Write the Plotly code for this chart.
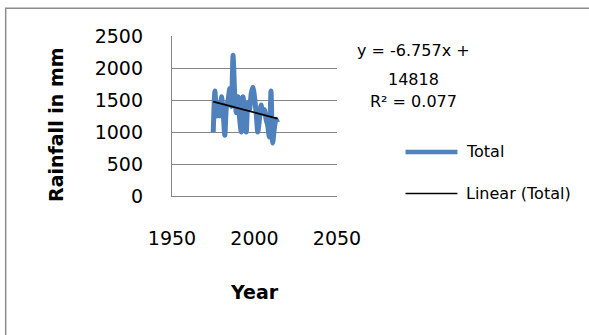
import plotly.graph_objects as go

# ---- data ----
years = list(range(1975, 2015))
rainfall = [1000, 1640, 1250, 1450, 1250, 1550, 1300, 950, 1400, 1500,
            1680, 1400, 2200, 1600, 1300, 1550, 1200, 1000, 1550, 1350,
            1000, 1450, 1350, 1600, 1700, 1550, 1300, 1000, 1200, 1420,
            1300, 1350, 1200, 1100, 920, 1640, 830, 1050, 1200, 1150]
trend_slope = -6.757
trend_intercept = 14818
r_squared = 0.077
y_ticks = [0, 500, 1000, 1500, 2000, 2500]
x_ticks = [1950, 2000, 2050]

trend_x = [years[0], years[-1]]
trend_y = [trend_slope * x + trend_intercept for x in trend_x]

FONT = "DejaVu Sans"
GRID = "#868686"
BLUE = "#4F81BD"

fig = go.Figure()
fig.add_trace(go.Scatter(x=years, y=rainfall, mode="lines", name="Total",
                         line=dict(color=BLUE, width=5, shape="spline", smoothing=0.7)))
fig.add_trace(go.Scatter(x=trend_x, y=trend_y, mode="lines", name="Linear (Total)",
                         line=dict(color="black", width=1.8)))

fig.update_layout(
    width=589, height=335,
    margin=dict(l=172, r=252, t=36, b=139),
    paper_bgcolor="white", plot_bgcolor="white",
    showlegend=False,
    font=dict(family=FONT, color="black", size=16),
    xaxis=dict(range=[1950, 2050], tickvals=x_ticks, showgrid=False, zeroline=False,
               showline=True, linecolor=GRID, linewidth=1.3, ticks="",
               tickfont=dict(size=19), ticklabelstandoff=25),
    yaxis=dict(range=[0, 2500], tickvals=y_ticks, showgrid=True, gridcolor=GRID, gridwidth=1.3,
               zeroline=False, showline=True, linecolor=GRID, linewidth=1.3, ticks="",
               tickfont=dict(size=19), ticklabelstandoff=24),
)

# axis titles
fig.add_annotation(text="<b>Rainfall in mm</b>", xref="paper", yref="paper",
                   x=-0.704, y=0.443, textangle=-90, showarrow=False,
                   font=dict(size=19), xanchor="center", yanchor="middle")
fig.add_annotation(text="<b>Year</b>", xref="paper", yref="paper",
                   x=0.498, y=-0.597, showarrow=False,
                   font=dict(size=19), xanchor="center", yanchor="middle")

# trendline label
eq_lines = [f"y = {trend_slope}x +", f"{trend_intercept}", f"R\u00b2 = {r_squared}"]
eq_y = [0.912, 0.729, 0.589]
for t, yy in zip(eq_lines, eq_y):
    fig.add_annotation(text=t, xref="paper", yref="paper", x=1.466, y=yy,
                       showarrow=False, font=dict(size=16),
                       xanchor="center", yanchor="middle")

# legend (drawn manually to match sample length)
legend_items = [("Total", BLUE, 4.5, 0.2755), ("Linear (Total)", "black", 1.5, 0.015)]
for name, col, w, yy in legend_items:
    fig.add_shape(type="line", xref="paper", yref="paper", x0=1.415, x1=1.730,
                  y0=yy, y1=yy, line=dict(color=col, width=w))
    fig.add_annotation(text=name, xref="paper", yref="paper", x=1.767, y=yy,
                       showarrow=False, font=dict(size=16),
                       xanchor="left", yanchor="middle")

# outer chart border
fig.add_shape(type="rect", xref="paper", yref="paper", x0=-1.008, x1=3.0,
              y0=-2.0, y1=1.173, line=dict(color="#8c8c8c", width=1.5), layer="below")

fig.write_html(
    "out.html",
    config={"displayModeBar": False},
    post_script="document.documentElement.style.overflow='hidden';"
                "document.body.style.overflow='hidden';"
                "document.body.style.margin='0';",
)
